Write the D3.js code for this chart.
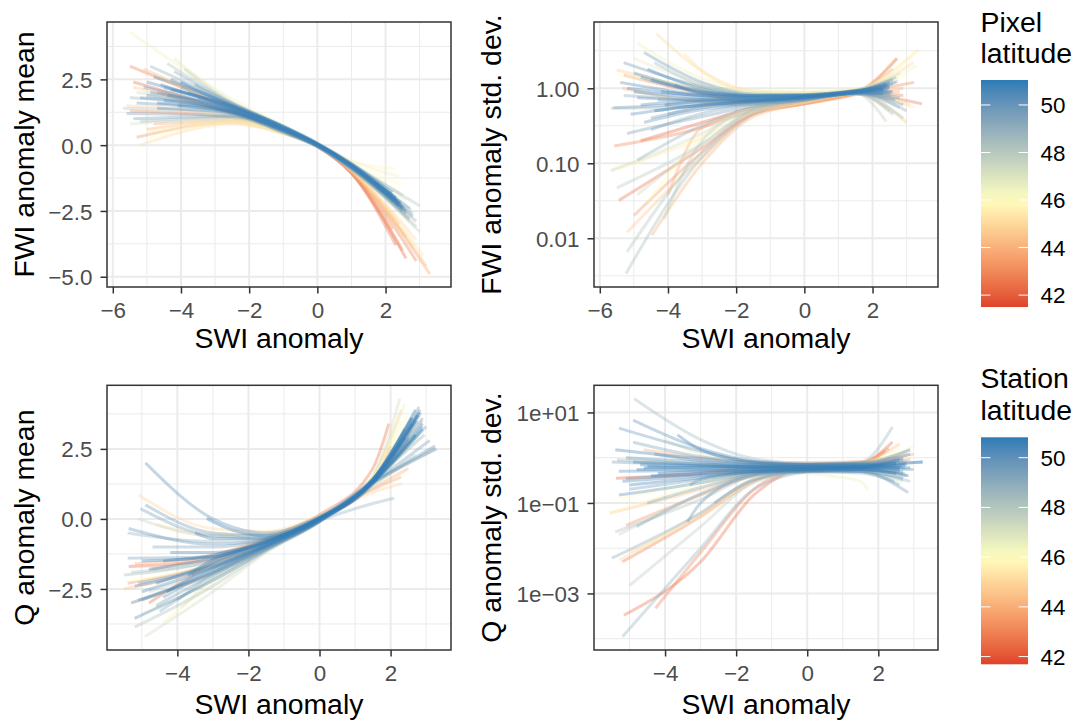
<!DOCTYPE html>
<html><head><meta charset="utf-8">
<script src="https://cdn.jsdelivr.net/npm/d3@7"></script>
<style>body{margin:0;background:#fff} text{font-family:"Liberation Sans",Arial,Helvetica,sans-serif}</style>
</head><body><svg id="c" width="1080" height="724"></svg>
<script>
// ---------------- DATA ----------------
// each curve: [latitude, xStart, yStart, y@knot1, y@knot2, y@knot3, y@knot4, xEnd, yEnd]
const fwiMeanKnots = [-2.5, -1, 0, 1];
const fwiMeanCurves = [
  [50.5,-4.6,2.3,1.4,0.62,0.02,-0.78,2.4,-2.3],
  [50.2,-5.0,1.9,1.25,0.55,-0.03,-0.85,2.5,-2.5],
  [50.8,-4.3,2.1,1.5,0.7,0.06,-0.72,2.2,-1.9],
  [49.8,-5.3,1.6,1.2,0.52,-0.04,-0.88,2.6,-2.6],
  [50.0,-4.8,2.6,1.55,0.68,0.04,-0.75,2.3,-2.0],
  [49.5,-5.6,1.2,1.12,0.5,-0.05,-0.92,2.7,-2.8],
  [50.6,-3.8,2.0,1.42,0.64,0.03,-0.76,2.35,-2.1],
  [49.9,-5.1,2.2,1.35,0.6,0.0,-0.83,2.55,-2.4],
  [50.3,-4.5,1.7,1.28,0.56,-0.02,-0.82,2.45,-2.2],
  [51.0,-4.0,2.4,1.48,0.72,0.08,-0.7,2.2,-1.8],
  [49.6,-5.4,1.0,1.1,0.48,-0.06,-0.9,2.8,-2.7],
  [50.4,-4.7,1.4,1.22,0.57,0.0,-0.8,2.4,-2.3],
  [49.2,-4.2,2.8,1.58,0.66,0.02,-0.8,2.6,-2.5],
  [50.1,-3.5,1.8,1.38,0.62,0.01,-0.79,2.3,-2.05],
  [48.8,-5.5,1.8,1.3,0.58,-0.02,-0.86,2.9,-2.9],
  [49.0,-4.9,3.0,1.6,0.7,0.03,-0.78,2.7,-2.4],
  [48.5,-5.2,0.9,1.05,0.5,-0.04,-0.9,2.8,-2.6],
  [48.2,-4.4,3.1,1.62,0.72,0.05,-0.74,3.0,-2.3],
  [47.8,-3.9,2.9,1.55,0.7,0.05,-0.7,2.5,-1.9],
  [48.0,-5.7,1.4,1.18,0.54,-0.03,-0.88,2.9,-3.1],
  [47.2,-5.5,0.8,1.0,0.47,-0.05,-0.9,2.7,-2.9],
  [46.5,-5.5,4.3,1.75,0.74,0.06,-0.6,2.4,-1.2],
  [46.0,-4.9,0.3,0.85,0.44,-0.03,-0.72,2.5,-1.5],
  [45.8,-5.0,0.5,0.92,0.46,0.0,-0.6,2.3,-0.9],
  [46.8,-4.2,3.3,1.65,0.7,0.04,-0.76,2.6,-2.1],
  [47.5,-5.3,2.0,1.3,0.56,-0.03,-0.9,3.0,-3.3],
  [45.0,-5.2,0.0,0.8,0.43,-0.04,-0.95,2.9,-3.6],
  [44.5,-5.4,2.2,1.22,0.55,-0.02,-0.98,3.2,-4.6],
  [44.0,-5.0,0.6,0.9,0.45,-0.04,-1.0,2.6,-3.5],
  [45.3,-4.6,2.6,1.38,0.6,0.0,-0.92,3.1,-4.2],
  [44.8,-5.6,1.5,1.08,0.5,-0.03,-0.95,2.8,-3.9],
  [43.8,-4.8,0.8,0.95,0.47,-0.05,-1.02,3.3,-4.9],
  [45.5,-3.3,1.2,1.05,0.5,-0.02,-0.85,2.7,-2.8],
  [44.2,-5.1,2.9,1.42,0.62,0.0,-0.92,2.4,-3.0],
  [42.5,-5.4,2.4,1.25,0.57,-0.03,-1.05,2.3,-3.8],
  [43.0,-5.5,1.3,1.05,0.5,-0.05,-1.05,2.5,-4.0],
  [42.2,-4.7,2.0,1.2,0.55,-0.04,-1.08,2.6,-4.3],
  [43.3,-5.3,0.3,0.85,0.45,-0.05,-1.0,2.2,-3.2],
  [42.8,-5.5,3.0,1.4,0.6,-0.02,-1.02,2.9,-4.4],
  [50.7,-4.4,1.9,1.33,0.6,0.0,-0.8,2.4,-2.2],
  [50.9,-4.1,1.5,1.25,0.58,0.0,-0.79,2.3,-2.1],
  [49.4,-4.0,2.2,1.45,0.65,0.03,-0.77,2.5,-2.35],
  [50.5,-5.0,2.4,1.4,0.63,0.02,-0.8,2.45,-2.25],
  [49.7,-3.6,2.3,1.5,0.67,0.04,-0.76,2.35,-2.15],
  [48.6,-4.6,2.0,1.32,0.6,0.0,-0.82,2.75,-2.45],
  [50.2,-4.9,2.0,1.36,0.61,0.01,-0.81,2.5,-2.35],
  [50.6,-4.3,2.5,1.5,0.66,0.03,-0.77,2.3,-2.0],
  [49.9,-5.2,1.8,1.3,0.58,0.0,-0.84,2.6,-2.5],
  [50.4,-4.5,2.2,1.44,0.64,0.02,-0.79,2.4,-2.2],
  [50.8,-4.7,1.6,1.27,0.57,0.0,-0.81,2.5,-2.4]
];

const fwiSdKnots = [-3, -1.5, 0, 1.5];
const fwiSdCurves = [
  [50.5,-4.8,0.6,0.68,0.7,0.76,0.88,2.5,1.0],
  [50.2,-5.1,0.45,0.6,0.66,0.72,0.86,2.6,0.9],
  [50.8,-4.5,1.3,0.9,0.8,0.82,0.93,2.4,1.05],
  [49.8,-5.3,2.2,1.05,0.8,0.8,0.92,2.7,1.2],
  [50.0,-4.7,0.35,0.52,0.62,0.7,0.85,2.5,0.85],
  [49.5,-5.6,0.55,0.62,0.68,0.74,0.87,2.8,0.75],
  [50.6,-4.2,0.9,0.8,0.76,0.8,0.92,2.3,1.0],
  [49.9,-4.7,3.0,1.2,0.84,0.82,0.94,2.6,1.3],
  [50.3,-5.0,1.6,0.92,0.78,0.79,0.9,2.45,0.95],
  [51.0,-4.4,0.5,0.6,0.67,0.75,0.88,2.35,0.98],
  [49.6,-5.2,0.25,0.42,0.58,0.7,0.85,2.9,0.6],
  [50.4,-3.8,1.1,0.85,0.78,0.8,0.91,2.5,1.1],
  [49.2,-5.3,0.8,0.72,0.72,0.77,0.9,2.7,1.4],
  [50.1,-4.3,0.7,0.7,0.7,0.76,0.89,2.4,0.9],
  [48.8,-5.67,0.54,0.58,0.66,0.74,0.87,2.8,0.55],
  [49.0,-4.9,0.11,0.32,0.56,0.7,0.86,3.0,0.5],
  [48.5,-5.23,0.0034,0.12,0.45,0.68,0.85,2.6,0.45],
  [48.2,-5.2,0.0066,0.14,0.5,0.7,0.86,2.9,0.4],
  [47.8,-4.12,0.018,0.2,0.52,0.7,0.86,2.4,0.36],
  [48.0,-5.5,0.047,0.18,0.52,0.7,0.86,2.7,0.7],
  [47.2,-5.67,0.08,0.25,0.58,0.74,0.9,2.8,1.6],
  [46.5,-4.9,4.0,1.35,0.92,0.88,0.96,3.3,2.0],
  [46.0,-5.5,1.5,1.05,0.9,0.9,0.98,3.0,1.5],
  [45.8,-4.6,0.03,0.22,0.56,0.72,0.88,3.3,3.2],
  [46.8,-5.0,2.5,1.15,0.88,0.87,0.95,2.6,1.4],
  [47.5,-4.9,0.038,0.18,0.52,0.72,0.87,2.5,0.5],
  [45.0,-4.35,5.4,1.7,0.92,0.88,0.96,3.2,2.2],
  [44.5,-5.2,0.012,0.12,0.45,0.64,0.84,3.0,0.35],
  [44.0,-4.47,0.011,0.1,0.42,0.62,0.82,2.9,1.0],
  [45.3,-3.52,2.9,1.7,0.9,0.86,0.95,3.36,3.3],
  [44.8,-5.5,1.75,0.95,0.72,0.74,0.88,3.1,0.6],
  [43.8,-4.0,0.038,0.3,0.48,0.62,0.83,2.8,0.9],
  [45.5,-5.67,0.08,0.22,0.48,0.65,0.85,3.2,0.55],
  [44.2,-5.34,1.0,0.65,0.6,0.68,0.87,2.7,2.5],
  [42.5,-5.44,0.032,0.16,0.46,0.62,0.83,3.45,0.62],
  [43.0,-5.58,0.17,0.3,0.52,0.64,0.85,3.22,1.2],
  [42.2,-4.8,0.2,0.35,0.55,0.66,0.86,2.72,2.5],
  [43.3,-5.0,0.02,0.14,0.45,0.62,0.84,2.6,1.8],
  [42.8,-5.3,1.5,0.85,0.64,0.68,0.87,2.9,0.8],
  [50.7,-4.6,1.8,0.98,0.8,0.8,0.91,2.45,1.1],
  [50.9,-5.0,0.9,0.75,0.72,0.77,0.9,2.3,0.95],
  [49.4,-4.5,0.28,0.46,0.62,0.72,0.87,2.55,0.8],
  [50.5,-5.4,1.2,0.82,0.75,0.78,0.9,2.5,1.05],
  [49.7,-4.0,0.45,0.58,0.66,0.74,0.88,2.6,1.15],
  [48.6,-4.4,2.2,1.08,0.82,0.82,0.92,2.75,1.25],
  [50.2,-4.9,0.75,0.7,0.7,0.75,0.88,2.55,0.9],
  [50.6,-5.2,1.0,0.8,0.74,0.77,0.89,2.4,1.15],
  [49.9,-4.5,0.4,0.55,0.64,0.72,0.87,2.65,0.7],
  [50.4,-4.8,1.4,0.88,0.77,0.79,0.9,2.5,1.2],
  [50.8,-4.1,0.6,0.66,0.68,0.75,0.88,2.3,0.85]
];

const qMeanKnots = [-3, -1.5, 0, 1.5];
const qMeanCurves = [
  [50.5,-4.6,-2.3,-1.6,-0.92,-0.05,1.38,2.8,3.8],
  [50.2,-5.0,-2.6,-1.75,-1.0,-0.08,1.3,2.7,3.5],
  [50.8,-3.7,-2.0,-1.45,-0.85,0.0,1.3,2.9,3.2],
  [49.8,-5.3,-3.0,-1.95,-1.05,-0.08,1.35,2.6,3.6],
  [50.0,-4.9,2.0,0.0,-0.5,0.08,1.3,3.25,2.6],
  [49.5,-5.04,0.37,-0.6,-0.68,0.05,1.28,2.5,2.8],
  [50.6,-4.2,-1.2,-1.2,-0.78,0.02,1.35,2.4,3.2],
  [49.9,-5.37,-0.34,-0.9,-0.75,0.02,1.35,2.83,3.9],
  [50.3,-5.2,-3.55,-2.2,-1.12,-0.1,1.4,2.7,3.9],
  [51.0,-3.17,0.02,-0.1,-0.6,0.05,1.25,2.4,2.9],
  [49.6,-5.4,-1.4,-1.35,-0.82,0.0,1.35,2.9,3.6],
  [50.4,-4.4,-1.5,-1.3,-0.8,0.0,1.38,2.6,3.4],
  [49.2,-5.0,-2.9,-1.9,-1.02,-0.06,1.42,2.8,4.0],
  [50.1,-3.6,-2.0,-1.55,-0.9,-0.02,1.32,2.5,2.9],
  [48.8,-5.4,-0.5,-0.8,-0.7,-0.05,0.55,2.1,0.74],
  [49.0,-4.5,-3.3,-2.1,-1.08,-0.08,1.4,3.0,3.3],
  [48.5,-5.5,-2.0,-1.5,-0.88,0.0,1.25,3.25,2.5],
  [48.2,-5.2,-3.86,-2.4,-1.15,-0.1,1.35,2.7,3.0],
  [47.8,-4.8,-2.6,-1.8,-0.95,-0.02,1.45,2.9,3.5],
  [48.0,-5.3,-1.9,-1.5,-0.88,0.0,1.35,2.55,3.0],
  [47.2,-4.91,-4.2,-2.6,-1.2,-0.1,1.5,2.26,4.3],
  [46.5,-5.0,-3.4,-2.2,-1.1,-0.05,1.55,2.4,4.1],
  [46.0,-5.3,-2.2,-1.6,-0.9,0.05,1.5,2.5,3.7],
  [45.8,-4.4,-3.7,-2.3,-1.05,0.0,1.45,2.3,3.5],
  [46.8,-3.9,-3.2,-2.1,-1.05,-0.05,1.3,2.8,2.9],
  [47.5,-5.1,0.0,-0.6,-0.55,0.08,1.2,2.7,2.3],
  [45.0,-5.09,0.85,-0.35,-0.45,0.1,0.95,2.32,1.25],
  [44.5,-5.51,-2.5,-1.7,-0.9,0.0,1.35,2.6,3.2],
  [44.0,-5.2,-1.6,-1.3,-0.75,0.08,1.1,2.5,1.8],
  [45.3,-4.6,-0.2,-0.55,-0.55,0.1,1.2,2.1,2.0],
  [44.8,-5.3,-3.0,-1.95,-0.98,0.0,1.5,2.3,3.9],
  [43.8,-4.7,-1.8,-1.3,-0.7,0.1,1.05,2.3,1.5],
  [42.5,-5.37,-1.7,-1.45,-0.88,0.0,1.35,2.0,2.6],
  [42.6,-4.8,-3.0,-1.6,-0.7,0.15,1.8,1.95,3.4],
  [43.3,-5.4,-2.3,-1.6,-0.85,0.05,1.3,2.4,2.7],
  [50.7,-4.8,-1.8,-1.4,-0.82,0.02,1.38,2.75,3.7],
  [50.9,-4.3,-2.6,-1.75,-0.95,-0.05,1.4,2.6,3.6],
  [49.4,-5.1,-2.3,-1.65,-0.92,-0.02,1.3,3.1,2.8],
  [50.5,-3.5,-0.5,-0.7,-0.7,0.03,1.3,2.7,3.0],
  [49.7,-4.9,0.5,-0.5,-0.6,0.05,1.3,2.9,3.3],
  [48.6,-4.0,-2.9,-1.95,-1.0,-0.05,1.4,2.95,3.0],
  [50.0,-5.1,-2.9,-1.9,-1.0,-0.06,1.38,2.85,3.8],
  [49.3,-4.7,-1.0,-1.0,-0.72,0.02,1.3,3.3,2.5],
  [50.2,-5.2,-2.4,-1.7,-0.95,-0.04,1.36,2.75,3.5],
  [49.9,-4.4,-2.8,-1.85,-0.98,-0.05,1.4,2.65,3.4],
  [50.6,-5.0,-1.5,-1.35,-0.82,0.0,1.33,2.9,3.4],
  [49.5,-4.6,-3.1,-2.0,-1.05,-0.06,1.42,2.8,3.7]
];

const qSdKnots = [-3, -1.5, 0, 1.5];
const qSdCurves = [
  [50.5,-4.8,0.55,0.56,0.58,0.58,0.6,2.6,0.6],
  [50.2,-5.1,1.0,0.8,0.7,0.68,0.7,2.7,0.9],
  [50.8,-4.4,0.4,0.45,0.5,0.52,0.55,2.5,0.45],
  [49.8,-5.3,4.5,1.4,0.8,0.7,0.72,2.8,0.8],
  [50.0,-4.9,6.8,1.6,0.85,0.72,0.75,2.9,1.2],
  [49.5,-5.5,0.8,0.68,0.6,0.55,0.5,2.84,0.17],
  [50.6,-3.65,3.2,1.5,0.8,0.7,0.7,3.25,0.8],
  [49.9,-3.37,0.038,0.1,0.4,0.52,0.55,2.6,0.5],
  [50.3,-5.2,0.3,0.4,0.48,0.5,0.5,2.7,0.35],
  [51.0,-4.6,0.6,0.62,0.64,0.64,0.66,2.75,0.7],
  [49.6,-5.0,0.2,0.33,0.47,0.52,0.56,3.0,0.55],
  [50.4,-5.4,1.5,0.95,0.75,0.72,0.76,2.9,1.5],
  [49.2,-4.5,0.1,0.22,0.42,0.48,0.46,2.45,0.3],
  [50.1,-5.3,0.15,0.28,0.46,0.55,0.6,2.65,0.65],
  [48.8,-5.2,0.00011,0.01,0.2,0.48,0.55,2.8,0.4],
  [49.0,-5.5,0.006,0.06,0.33,0.5,0.5,2.6,0.25],
  [48.5,-4.87,20,2.5,0.95,0.75,0.8,2.4,4.8],
  [48.2,-5.4,0.023,0.12,0.4,0.52,0.55,2.75,0.45],
  [47.8,-5.0,0.0015,0.03,0.28,0.5,0.6,2.5,0.9],
  [49.3,-2.62,0.1,null,0.32,0.5,0.55,2.5,0.7],
  [46.5,-4.6,0.9,0.72,0.55,0.45,0.3,1.7,0.2],
  [46.0,-5.3,0.12,0.3,0.5,0.62,0.7,2.6,1.6],
  [45.8,-5.55,0.06,0.25,0.5,0.62,0.72,3.0,1.8],
  [46.8,-4.0,2.5,1.2,0.75,0.66,0.66,2.8,1.1],
  [47.5,-5.3,0.02,0.15,0.42,0.5,0.48,2.7,0.3],
  [45.0,-5.28,0.0055,0.06,0.35,0.62,0.78,2.8,1.3],
  [44.5,-5.55,0.06,0.2,0.48,0.7,0.8,2.6,2.0],
  [44.0,-4.6,1.5,1.0,0.8,0.78,0.82,3.0,1.2],
  [45.3,-5.0,0.008,0.05,0.3,0.55,0.65,2.5,0.6],
  [42.5,-5.16,0.00033,0.005,0.15,0.62,0.75,2.4,2.2],
  [43.0,-4.27,0.00047,0.008,0.2,0.6,0.72,2.3,1.6],
  [42.2,-5.38,0.35,0.45,0.58,0.7,0.75,2.6,1.0],
  [43.3,-5.1,0.032,0.15,0.42,0.64,0.75,2.9,0.9],
  [42.8,-5.2,0.005,0.05,0.3,0.6,0.74,2.2,1.4],
  [50.7,-4.7,0.7,0.66,0.64,0.62,0.62,2.6,0.55],
  [50.9,-4.2,0.45,0.5,0.55,0.58,0.62,2.5,0.75],
  [49.4,-4.9,2.2,1.05,0.75,0.66,0.68,3.25,0.8],
  [50.5,-5.0,0.25,0.36,0.5,0.55,0.55,2.85,0.4],
  [49.7,-3.3,0.25,0.33,0.48,0.56,0.62,2.7,1.0],
  [48.6,-5.35,0.9,0.72,0.6,0.55,0.5,2.9,0.3],
  [50.0,-4.3,1.2,0.85,0.7,0.65,0.66,2.75,0.6],
  [49.1,-4.8,0.03,0.16,0.44,0.55,0.58,2.7,0.5],
  [50.2,-5.3,0.5,0.52,0.55,0.57,0.6,2.8,0.7],
  [50.6,-4.9,0.8,0.72,0.66,0.63,0.64,2.6,0.9],
  [49.8,-5.1,0.35,0.42,0.5,0.54,0.56,2.7,0.45],
  [50.4,-4.5,0.65,0.6,0.6,0.6,0.6,2.9,0.6]
];

// tick values & labels
const xTicksTop = [-6, -4, -2, 0, 2];
const xTickLabelsTop = ["\u22126", "\u22124", "\u22122", "0", "2"];
const xTicksBottom = [-4, -2, 0, 2];
const xTickLabelsBottom = ["\u22124", "\u22122", "0", "2"];
const xMinor = [-5, -3, -1, 1, 3];
const fwiMeanYTicks = [2.5, 0, -2.5, -5];
const fwiMeanYLabels = ["2.5", "0.0", "\u22122.5", "\u22125.0"];
const fwiMeanYMinor = [3.75, 1.25, -1.25, -3.75];
const fwiSdYTicks = [1, 0.1, 0.01];
const fwiSdYLabels = ["1.00", "0.10", "0.01"];
const fwiSdYMinor = [3.1623, 0.31623, 0.031623, 0.0031623];
const qMeanYTicks = [2.5, 0, -2.5];
const qMeanYLabels = ["2.5", "0.0", "\u22122.5"];
const qMeanYMinor = [3.75, 1.25, -1.25, -3.75];
const qSdYTicks = [10, 0.1, 0.001];
const qSdYLabels = ["1e+01", "1e\u221201", "1e\u221203"];
const qSdYMinor = [1, 0.01, 0.0001];
const legendBreaks = [42, 44, 46, 48, 50];
const pixelLatRange = [41.5, 51.05];
const stationLatRange = [41.69, 50.82];

// ---------------- DRAWING ----------------
const svg = d3.select("#c");
svg.append("rect").attr("width",1080).attr("height",724).attr("fill","#fff");

function makeColor(range){
  const m = 46, d = Math.max(range[1]-m, m-range[0]);
  return d3.scaleLinear().domain([m-d, m, m+d])
    .range(["#D7191C","#FFFFBF","#2C7BB6"]).interpolate(d3.interpolateLab).clamp(true);
}
const pixelColor = makeColor(pixelLatRange);
const stationColor = makeColor(stationLatRange);

const panels = [
  {id:"tl", box:[107,451,22,287], xd:[-6.17,3.92], yd:[-5.39,4.68], log:false,
   xt:xTicksTop, xl:xTickLabelsTop, yt:fwiMeanYTicks, yl:fwiMeanYLabels, ym:fwiMeanYMinor,
   knots:fwiMeanKnots, curves:fwiMeanCurves, color:pixelColor,
   ytitle:"FWI anomaly mean", ytx:33.5, xty:348},
  {id:"tr", box:[594,938,22,287], xd:[-6.17,3.92], yd:[Math.pow(10,-2.65),Math.pow(10,0.884)], log:true,
   xt:xTicksTop, xl:xTickLabelsTop, yt:fwiSdYTicks, yl:fwiSdYLabels, ym:fwiSdYMinor,
   knots:fwiSdKnots, curves:fwiSdCurves, color:pixelColor,
   ytitle:"FWI anomaly std. dev.", ytx:500.5, xty:348},
  {id:"bl", box:[107,451,385.3,650], xd:[-5.98,3.70], yd:[-4.68,4.77], log:false,
   xt:xTicksBottom, xl:xTickLabelsBottom, yt:qMeanYTicks, yl:qMeanYLabels, ym:qMeanYMinor,
   knots:qMeanKnots, curves:qMeanCurves, color:stationColor,
   ytitle:"Q anomaly mean", ytx:33.5, xty:714},
  {id:"br", box:[594,938,385.3,650], xd:[-6.0,3.68], yd:[Math.pow(10,-4.25),Math.pow(10,1.6)], log:true,
   xt:xTicksBottom, xl:xTickLabelsBottom, yt:qSdYTicks, yl:qSdYLabels, ym:qSdYMinor,
   knots:qSdKnots, curves:qSdCurves, color:stationColor,
   ytitle:"Q anomaly std. dev.", ytx:500.5, xty:714}
];

const defs = svg.append("defs");

panels.forEach(p => {
  const [x0,x1,y0,y1] = p.box;
  const x = d3.scaleLinear().domain(p.xd).range([x0,x1]);
  const y = (p.log ? d3.scaleLog() : d3.scaleLinear()).domain(p.yd).range([y1,y0]);
  const g = svg.append("g");
  defs.append("clipPath").attr("id","clip-"+p.id).append("rect")
    .attr("x",x0).attr("y",y0).attr("width",x1-x0).attr("height",y1-y0);

  const grid = g.append("g").attr("stroke","#EBEBEB");
  xMinor.filter(v => v>p.xd[0] && v<p.xd[1]).forEach(v => {
    grid.append("line").attr("x1",x(v)).attr("x2",x(v)).attr("y1",y0).attr("y2",y1).attr("stroke-width",1);
  });
  p.ym.forEach(v => {
    grid.append("line").attr("y1",y(v)).attr("y2",y(v)).attr("x1",x0).attr("x2",x1).attr("stroke-width",1);
  });
  p.xt.forEach(v => {
    grid.append("line").attr("x1",x(v)).attr("x2",x(v)).attr("y1",y0).attr("y2",y1).attr("stroke-width",2);
  });
  p.yt.forEach(v => {
    grid.append("line").attr("y1",y(v)).attr("y2",y(v)).attr("x1",x0).attr("x2",x1).attr("stroke-width",2);
  });

  const line = d3.line().x(d=>x(d[0])).y(d=>y(d[1])).curve(d3.curveMonotoneX);
  const sorted = p.curves.slice().sort((a,b)=>a[0]-b[0]);
  const lg = g.append("g").attr("clip-path","url(#clip-"+p.id+")");
  sorted.forEach(c => {
    const xs = c[1], xe = c[7];
    const pts = [[xs,c[2]]];
    p.knots.forEach((k,i) => { const v = c[3+i]; if (v!=null && k>xs && k<xe) pts.push([k,v]); });
    pts.push([xe,c[8]]);
    lg.append("path").attr("d", line(pts)).attr("fill","none")
      .attr("stroke", p.color(c[0])).attr("stroke-opacity",0.36)
      .attr("stroke-width",3).attr("stroke-linecap","butt");
  });

  g.append("rect").attr("x",x0).attr("y",y0).attr("width",x1-x0).attr("height",y1-y0)
    .attr("fill","none").attr("stroke","#333333").attr("stroke-width",1.5);

  const xa = d3.axisBottom(x).tickValues(p.xt).tickSize(6.5).tickPadding(6)
    .tickFormat((d,i)=>p.xl[i]);
  const xg = g.append("g").attr("transform",`translate(0,${y1})`).call(xa);
  xg.select(".domain").remove();
  xg.selectAll(".tick line").attr("stroke","#333333").attr("stroke-width",1.5);
  xg.selectAll(".tick text").attr("fill","#4D4D4D").attr("font-size",22.4)
    .attr("font-family","Liberation Sans, Arial, sans-serif")
    .attr("dy",null).attr("y",30.6);

  const ya = d3.axisLeft(y).tickValues(p.yt).tickSize(6.5).tickPadding(6)
    .tickFormat((d,i)=>p.yl[i]);
  const yg = g.append("g").attr("transform",`translate(${x0},0)`).call(ya);
  yg.select(".domain").remove();
  yg.selectAll(".tick line").attr("stroke","#333333").attr("stroke-width",1.5);
  yg.selectAll(".tick text").attr("fill","#4D4D4D").attr("font-size",22.4)
    .attr("font-family","Liberation Sans, Arial, sans-serif")
    .attr("x",-14.5).attr("dy","0.36em");

  g.append("text").attr("x",(x0+x1)/2).attr("y",p.xty).attr("text-anchor","middle")
    .attr("font-size",28.4).attr("fill","#000").text("SWI anomaly");
  g.append("text").attr("transform",`translate(${p.ytx},${(y0+y1)/2}) rotate(-90)`)
    .attr("text-anchor","middle").attr("font-size",28.4).attr("fill","#000").text(p.ytitle);
});

function legend(title1, title2, tb1, tb2, barTop, barBot, range, color, id){
  const g = svg.append("g");
  g.append("text").attr("x",980.5).attr("y",tb1).attr("font-size",28.4).text(title1);
  g.append("text").attr("x",980.5).attr("y",tb2).attr("font-size",28.4).text(title2);
  const grad = defs.append("linearGradient").attr("id",id)
    .attr("x1",0).attr("x2",0).attr("y1",1).attr("y2",0);
  d3.range(0,1.0001,0.05).forEach(t => {
    grad.append("stop").attr("offset",t).attr("stop-color", color(range[0]+t*(range[1]-range[0])));
  });
  const bx0 = 981, bx1 = 1028;
  g.append("rect").attr("x",bx0).attr("y",barTop).attr("width",bx1-bx0).attr("height",barBot-barTop)
    .attr("fill",`url(#${id})`);
  const s = d3.scaleLinear().domain(range).range([barBot,barTop]);
  legendBreaks.forEach(b => {
    const yy = s(b);
    g.append("line").attr("x1",bx0).attr("x2",bx0+9.4).attr("y1",yy).attr("y2",yy)
      .attr("stroke","#fff").attr("stroke-width",1);
    g.append("line").attr("x1",bx1-9.4).attr("x2",bx1).attr("y1",yy).attr("y2",yy)
      .attr("stroke","#fff").attr("stroke-width",1);
    g.append("text").attr("x",1040.5).attr("y",yy).attr("dy","0.36em")
      .attr("font-size",22.4).attr("fill","#000").text(b);
  });
}
legend("Pixel","latitude",32.3,62.7,80,307,pixelLatRange,pixelColor,"gradPix");
legend("Station","latitude",388.3,420,437.3,664.3,stationLatRange,stationColor,"gradSta");
</script></body></html>
